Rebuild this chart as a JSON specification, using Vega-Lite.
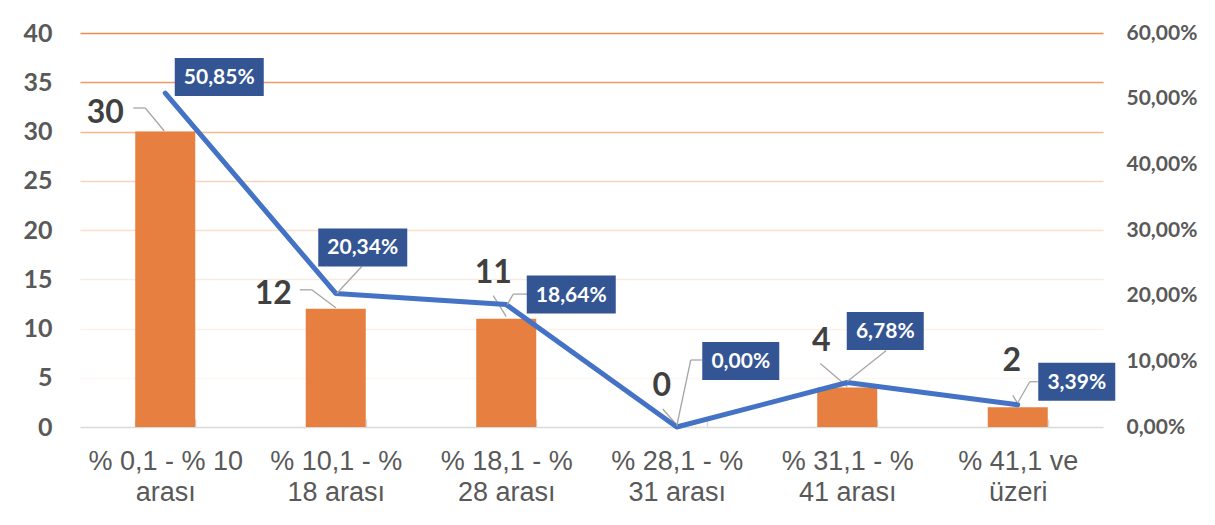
{
  "$schema": "https://vega.github.io/schema/vega-lite/v6.json",
  "width": 1023,
  "height": 394,
  "autosize": {"type": "none"},
  "padding": {"left": 80, "top": 33, "right": 112, "bottom": 98},
  "background": "white",
  "config": {
    "view": {"stroke": null},
    "locale": {"number": {"decimal": ",", "thousands": ".", "grouping": [3], "currency": ["", " TL"]}}
  },
  "data": {
    "values": [
      {"i": 0, "cat": "% 0,1 - % 10\narası", "count": 30, "pct": 0.5085},
      {"i": 1, "cat": "% 10,1 - %\n18 arası", "count": 12, "pct": 0.2034},
      {"i": 2, "cat": "% 18,1 - %\n28 arası", "count": 11, "pct": 0.1864},
      {"i": 3, "cat": "% 28,1 - %\n31 arası", "count": 0, "pct": 0.0},
      {"i": 4, "cat": "% 31,1 - %\n41 arası", "count": 4, "pct": 0.0678},
      {"i": 5, "cat": "% 41,1 ve\nüzeri", "count": 2, "pct": 0.0339}
    ]
  },
  "encoding": {
    "x": {
      "field": "cat",
      "type": "nominal",
      "sort": null,
      "scale": {"paddingInner": 0.648, "paddingOuter": 0.324},
      "axis": {
        "title": null,
        "labelAngle": 0,
        "labelExpr": "split(datum.label, '\\n')",
        "labelFont": "Liberation Sans",
        "labelFontSize": 27,
        "labelColor": "#595959",
        "labelLineHeight": 31,
        "labelPadding": 29,
        "labelBaseline": "top",
        "tickBand": "extent",
        "tickSize": -8,
        "tickColor": "#D9D9D9",
        "tickWidth": 1.5,
        "domainColor": "#D9D9D9",
        "domainWidth": 1.5,
        "grid": false
      }
    }
  },
  "layer": [
    {
      "encoding": {
        "y": {
          "field": "count",
          "type": "quantitative",
          "scale": {"domain": [0, 40], "nice": false},
          "axis": {
            "title": null,
            "orient": "left",
            "values": [0, 5, 10, 15, 20, 25, 30, 35, 40],
            "labelFont": "Lato",
            "labelFontSize": 25,
            "labelFontWeight": "bold",
            "labelColor": "#595959",
            "labelPadding": 28,
            "ticks": false,
            "domain": false,
            "grid": true,
            "gridWidth": 1.7,
            "gridColor": {"expr": "datum.value == 40 ? '#EF8A4F' : datum.value == 35 ? '#F29A66' : datum.value == 30 ? '#F5B990' : datum.value == 25 ? '#F8D4BC' : datum.value == 20 ? '#FADFCD' : datum.value == 15 ? '#FCEADF' : datum.value == 10 ? '#FDF0E8' : datum.value == 5 ? '#FEF6F1' : 'transparent'"}
          }
        }
      },
      "layer": [
        {"mark": {"type": "bar", "color": "#E67F3F"}},
        {
          "mark": {
            "type": "rule", "color": "#A6A6A6", "strokeWidth": 1.3,
            "xOffset": {"expr": "[-1,0,0,0,0,0][datum.i]"},
            "yOffset": {"expr": "[-0.5,-1,-2,-2,-1,-4][datum.i]"},
            "x2Offset": {"expr": "[-20,-24,-13,-14,-27,-5][datum.i]"},
            "y2Offset": {"expr": "[-23.5,-19,-23,-18,-24,-12][datum.i]"}
          },
          "encoding": {
            "x2": {"field": "cat", "bandPosition": 0.5},
            "y2": {"field": "count"}
          }
        },
        {
          "transform": [{"filter": "datum.i < 2"}],
          "mark": {
            "type": "rule", "color": "#A6A6A6", "strokeWidth": 1.3,
            "xOffset": {"expr": "[-32,-36][datum.i]"},
            "yOffset": {"expr": "[-23.5,-19][datum.i]"},
            "x2Offset": {"expr": "[-20,-24][datum.i]"},
            "y2Offset": {"expr": "[-23.5,-19][datum.i]"}
          },
          "encoding": {
            "x2": {"field": "cat", "bandPosition": 0.5},
            "y2": {"field": "count"}
          }
        },
        {
          "mark": {
            "type": "text", "font": "Lato", "fontSize": 32, "fontWeight": "bold", "color": "#404040",
            "align": "center", "baseline": "middle",
            "dx": {"expr": "[-60,-62.5,-13,-15,-26,-6][datum.i]"},
            "dy": {"expr": "[-18.5,-15,-46,-41,-47,-46][datum.i]"}
          },
          "encoding": {"text": {"field": "count", "type": "quantitative"}}
        }
      ]
    },
    {
      "encoding": {
        "y": {
          "field": "pct",
          "type": "quantitative",
          "scale": {"domain": [0, 0.6], "nice": false},
          "axis": {
            "title": null,
            "orient": "right",
            "values": [0, 0.1, 0.2, 0.3, 0.4, 0.5, 0.6],
            "format": ".2%",
            "labelFont": "Lato",
            "labelFontSize": 21,
            "labelFontWeight": "bold",
            "labelColor": "#595959",
            "labelPadding": 23,
            "ticks": false,
            "domain": false,
            "grid": false
          }
        }
      },
      "layer": [
        {"mark": {"type": "line", "color": "#4472C4", "strokeWidth": 5, "strokeCap": "round", "strokeJoin": "round"}},
        {
          "transform": [{"filter": "datum.i > 0"}],
          "mark": {
            "type": "rule", "color": "#A6A6A6", "strokeWidth": 1.3,
            "xOffset": {"expr": "[0,1,1,0,0,0][datum.i]"},
            "yOffset": {"expr": "[0,0,0,-1,-1,-2][datum.i]"},
            "x2Offset": {"expr": "[0,26,7,14,39,12][datum.i]"},
            "y2Offset": {"expr": "[0,-27,-10.5,-67,-32,-23][datum.i]"}
          },
          "encoding": {
            "x2": {"field": "cat", "bandPosition": 0.5},
            "y2": {"field": "pct"}
          }
        },
        {
          "transform": [{"filter": "datum.i == 2 || datum.i == 3 || datum.i == 5"}],
          "mark": {
            "type": "rule", "color": "#A6A6A6", "strokeWidth": 1.3,
            "xOffset": {"expr": "[0,0,21,25,0,20][datum.i]"},
            "yOffset": {"expr": "[0,0,-10.5,-67,0,-23][datum.i]"},
            "x2Offset": {"expr": "[0,0,7,14,0,12][datum.i]"},
            "y2Offset": {"expr": "[0,0,-10.5,-67,0,-23][datum.i]"}
          },
          "encoding": {
            "x2": {"field": "cat", "bandPosition": 0.5},
            "y2": {"field": "pct"}
          }
        },
        {
          "mark": {
            "type": "point", "filled": true, "color": "#335593", "opacity": 1, "strokeWidth": 0, "size": 10000,
            "shape": {"expr": "datum.pct >= 0.1 ? 'M-0.89,-0.38L0.89,-0.38L0.89,0.38L-0.89,0.38Z' : 'M-0.77,-0.38L0.77,-0.38L0.77,0.38L-0.77,0.38Z'"},
            "xOffset": {"expr": "[54,27,65,64,38,59][datum.i]"},
            "yOffset": {"expr": "[-16,-46,-10,-66,-51.5,-23][datum.i]"}
          }
        },
        {
          "mark": {
            "type": "text", "font": "Lato", "fontSize": 21, "fontWeight": "bold", "color": "white",
            "align": "center", "baseline": "middle",
            "dx": {"expr": "[54,27,65,64,38,59][datum.i]"},
            "dy": {"expr": "[-15,-45,-9,-65,-50.5,-22][datum.i]"}
          },
          "encoding": {"text": {"field": "pct", "type": "quantitative", "format": ".2%"}}
        }
      ]
    }
  ],
  "resolve": {"scale": {"y": "independent"}}
}
